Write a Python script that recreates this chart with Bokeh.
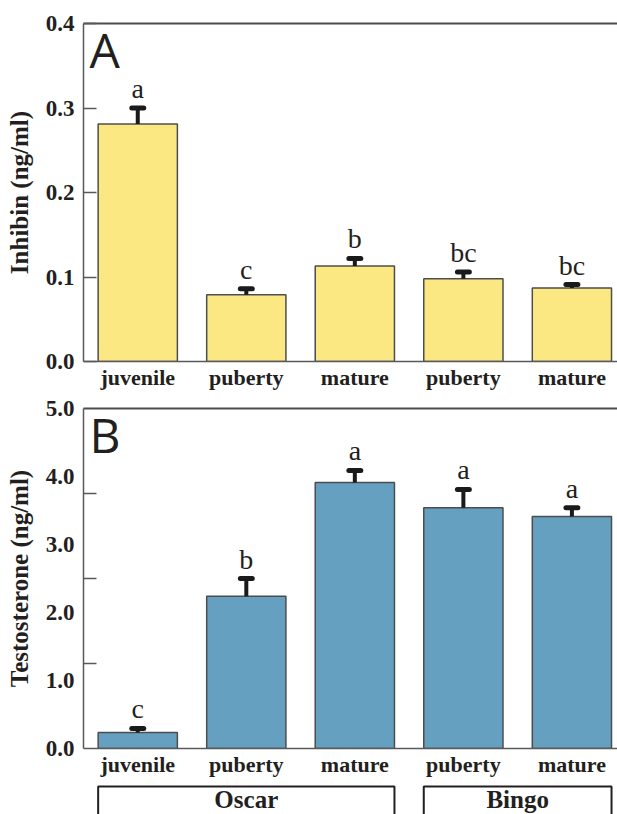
from bokeh.plotting import figure
from bokeh.models import Range1d, FixedTicker, LinearAxis, Label
from bokeh.layouts import column
from bokeh.embed import file_html
from bokeh.resources import INLINE
from bokeh.core.properties import value

# ---------------- data ----------------
categories = ["juvenile", "puberty", "mature", "puberty", "mature"]
groups = ["Oscar", "Oscar", "Oscar", "Bingo", "Bingo"]
group_names = ["Oscar", "Bingo"]

inhibin_mean = [0.281, 0.079, 0.113, 0.098, 0.087]
inhibin_err = [0.019, 0.007, 0.009, 0.008, 0.004]
inhibin_sig = ["a", "c", "b", "bc", "bc"]
inhibin_ticks = [0.0, 0.1, 0.2, 0.3, 0.4]
inhibin_tick_labels = ["0.0", "0.1", "0.2", "0.3", "0.4"]

testo_mean = [0.235, 2.24, 3.91, 3.54, 3.41]
testo_err = [0.06, 0.26, 0.18, 0.27, 0.13]
testo_sig = ["c", "b", "a", "a", "a"]
testo_ticks = [0.0, 1.0, 2.0, 3.0, 4.0, 5.0]
testo_tick_labels = ["0.0", "1.0", "2.0", "3.0", "4.0", "5.0"]

# ---------------- style ----------------
W = 617
LEFT = 83
BAR_W = 0.73
AXIS_COL = "#58595b"
INK = "#231f20"
SERIF = "Liberation Serif"

idx = list(range(len(categories)))
x_range = Range1d(-0.5, 4.42)


def panel(means, errs, sig, ticks, tick_labels, mark_ticks, color, ylabel,
          letter, height, top, bottom):
    ymax = ticks[-1]
    p = figure(width=W, height=height, x_range=x_range, y_range=Range1d(0, ymax),
               output_backend="svg", toolbar_location=None,
               min_border_left=LEFT, min_border_right=0,
               min_border_top=top, min_border_bottom=bottom)
    p.grid.visible = False
    p.outline_line_color = None

    # x axis
    xa = p.xaxis[0]
    xa.ticker = FixedTicker(ticks=idx)
    xa.major_label_overrides = {i: c for i, c in zip(idx, categories)}
    xa.major_tick_line_color = None
    xa.minor_tick_line_color = None
    xa.major_tick_out = 0
    xa.major_label_standoff = 3
    xa.axis_line_color = AXIS_COL
    xa.axis_line_width = 1.5
    xa.major_label_text_font = SERIF
    xa.major_label_text_font_style = "bold"
    xa.major_label_text_font_size = "22px"
    xa.major_label_text_color = INK

    # y axis
    ya = p.yaxis[0]
    ya.ticker = FixedTicker(ticks=ticks, minor_ticks=mark_ticks)
    ya.major_label_overrides = {t: l for t, l in zip(ticks, tick_labels)}
    if mark_ticks:
        ya.major_tick_line_color = None
    else:
        ya.major_tick_line_color = AXIS_COL
    ya.major_tick_in = 13
    ya.major_tick_out = 0
    ya.major_tick_line_width = 1.5
    ya.minor_tick_line_color = AXIS_COL
    ya.minor_tick_line_width = 1.5
    ya.minor_tick_in = 13
    ya.minor_tick_out = 0
    ya.major_label_standoff = 9
    ya.axis_line_color = AXIS_COL
    ya.axis_line_width = 1.5
    ya.major_label_text_font = SERIF
    ya.major_label_text_font_style = "bold"
    ya.major_label_text_font_size = "23px"
    ya.major_label_text_color = INK
    ya.axis_label = ylabel
    ya.axis_label_text_font = SERIF
    ya.axis_label_text_font_style = "bold"
    ya.axis_label_text_font_size = "25px"
    ya.axis_label_text_color = INK
    ya.axis_label_standoff = 10

    # top frame line
    ta = LinearAxis(ticker=FixedTicker(ticks=[]), axis_line_color="#4d4d4d",
                    axis_line_width=2, major_tick_line_color=None,
                    minor_tick_line_color=None, major_tick_out=0, minor_tick_out=0,
                    major_label_standoff=0, major_label_text_font_size="0px")
    p.add_layout(ta, "above")

    tops = [m + e for m, e in zip(means, errs)]
    p.vbar(x=idx, top=means, bottom=0, width=BAR_W, fill_color=color,
           line_color="#4d4d4d", line_width=1.5)
    p.segment(x0=idx, y0=means, x1=idx, y1=tops, line_color="#1a1a1a", line_width=4)
    p.segment(x0=[i - 0.055 for i in idx], y0=tops, x1=[i + 0.055 for i in idx], y1=tops,
              line_color="#1a1a1a", line_width=5, line_cap="round")
    p.text(x=idx, y=tops, text=sig, text_align="center", text_baseline="bottom",
           y_offset=-4, text_font=value(SERIF), text_font_size="28px", text_color=INK)

    p.add_layout(Label(x=x_range.start, y=ymax, x_offset=6, y_offset=7, text=letter,
                       text_baseline="top", text_align="left", text_font="Open Sans",
                       text_font_size="48px", text_color=INK))
    return p


p1 = panel(inhibin_mean, inhibin_err, inhibin_sig, inhibin_ticks, inhibin_tick_labels,
           [], "#fce883", "Inhibin (ng/ml)", "A", 392, 23, 29)
p2 = panel(testo_mean, testo_err, testo_sig, testo_ticks, testo_tick_labels,
           [testo_ticks[-1] * k / 4 for k in (1, 2, 3)], "#65a0c1",
           "Testosterone (ng/ml)", "B", 388, 16, 32)

# group brackets
p3 = figure(width=W, height=34, x_range=x_range, y_range=Range1d(0, 1),
            output_backend="svg", toolbar_location=None, x_axis_type=None,
            y_axis_type=None, min_border_left=LEFT, min_border_right=0,
            min_border_top=0, min_border_bottom=0)
p3.grid.visible = False
p3.outline_line_color = None
g_left, g_right, g_mid = [], [], []
for g in group_names:
    members = [i for i, gg in zip(idx, groups) if gg == g]
    g_left.append(min(members) - BAR_W / 2)
    g_right.append(max(members) + BAR_W / 2)
    g_mid.append((min(members) + max(members)) / 2)
p3.quad(left=g_left, right=g_right, top=0.82, bottom=-1, fill_color=None,
        line_color=INK, line_width=2)
p3.text(x=g_mid, y=0.45, text=group_names, text_align="center",
        text_baseline="middle", text_font=value(SERIF), text_font_style="bold",
        text_font_size="25px", text_color=INK)

layout = column(p1, p2, p3, spacing=0)
open("out.html", "w").write(file_html(layout, INLINE))
